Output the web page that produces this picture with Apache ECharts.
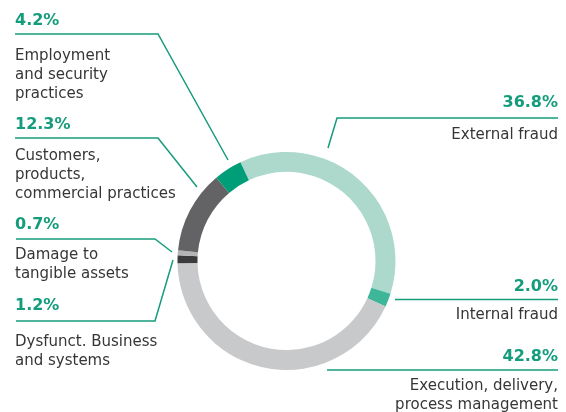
<!DOCTYPE html>
<html>
<head>
<meta charset="utf-8">
<script src="https://cdn.jsdelivr.net/npm/echarts@6/dist/echarts.min.js"></script>
<style>
  html, body { margin: 0; padding: 0; background: #fff; }
  #main { width: 566px; height: 412px; }
</style>
</head>
<body>
<div id="main"></div>
<script>
// slices, clockwise from the top
const categories = [
  "External fraud",
  "Internal fraud",
  "Execution, delivery,\nprocess management",
  "Dysfunct. Business\nand systems",
  "Damage to\ntangible assets",
  "Customers,\nproducts,\ncommercial practices",
  "Employment\nand security\npractices"
];
const shares = [36.8, 2.0, 42.8, 1.2, 0.7, 12.3, 4.2];
const colors = ["#acd9cc", "#3db69a", "#c8c9cb", "#3b3b3d", "#b4b4b6", "#636365", "#009e78"];

// where each annotation sits (x, pct centre, first name-line centre, leader line)
const placing = [
  { x: 558, align: "right", pctY: 103, nameY: 135, line: [[558, 118], [337, 118], [328, 148]] },
  { x: 558, align: "right", pctY: 287, nameY: 315, line: [[558, 299.5], [395, 299.5]] },
  { x: 558, align: "right", pctY: 357, nameY: 386, line: [[558, 370], [327, 370]] },
  { x: 15, align: "left", pctY: 306, nameY: 342, line: [[16, 321], [155, 321], [173, 260]] },
  { x: 15, align: "left", pctY: 225, nameY: 255, line: [[16, 239], [155, 239], [172, 252]] },
  { x: 15, align: "left", pctY: 125, nameY: 156, line: [[15, 138], [158, 138], [197, 187]] },
  { x: 15, align: "left", pctY: 21, nameY: 56, line: [[15, 34], [158, 34], [228, 160]] }
];

const green = "#159c7c";
const lineH = 19;

let graphics = [];
shares.forEach((v, i) => {
  const p = placing[i];
  graphics.push({
    type: "text",
    x: p.x, y: p.pctY,
    style: {
      text: v.toFixed(1) + "%",
      fill: green,
      font: "bold 16px 'DejaVu Sans'",
      textAlign: p.align,
      textVerticalAlign: "middle"
    }
  });
  graphics.push({
    type: "text",
    x: p.x, y: p.nameY - lineH / 2,
    style: {
      text: categories[i],
      fill: "#363636",
      font: "15px 'DejaVu Sans'",
      lineHeight: lineH,
      textAlign: p.align,
      textVerticalAlign: "top"
    }
  });
  graphics.push({
    type: "polyline",
    shape: { points: p.line },
    style: { stroke: green, lineWidth: 1.5, fill: null }
  });
});

let myChart = echarts.init(document.getElementById("main"));
myChart.setOption({
  animation: false,
  color: colors,
  series: [
    {
      type: "pie",
      center: [286.5, 261],
      radius: [89, 109],
      startAngle: 115,
      clockwise: true,
      label: { show: false },
      labelLine: { show: false },
      emphasis: { disabled: true },
      data: shares.map((v, i) => ({ value: v, name: categories[i] }))
    }
  ],
  graphic: graphics
});
</script>
</body>
</html>
